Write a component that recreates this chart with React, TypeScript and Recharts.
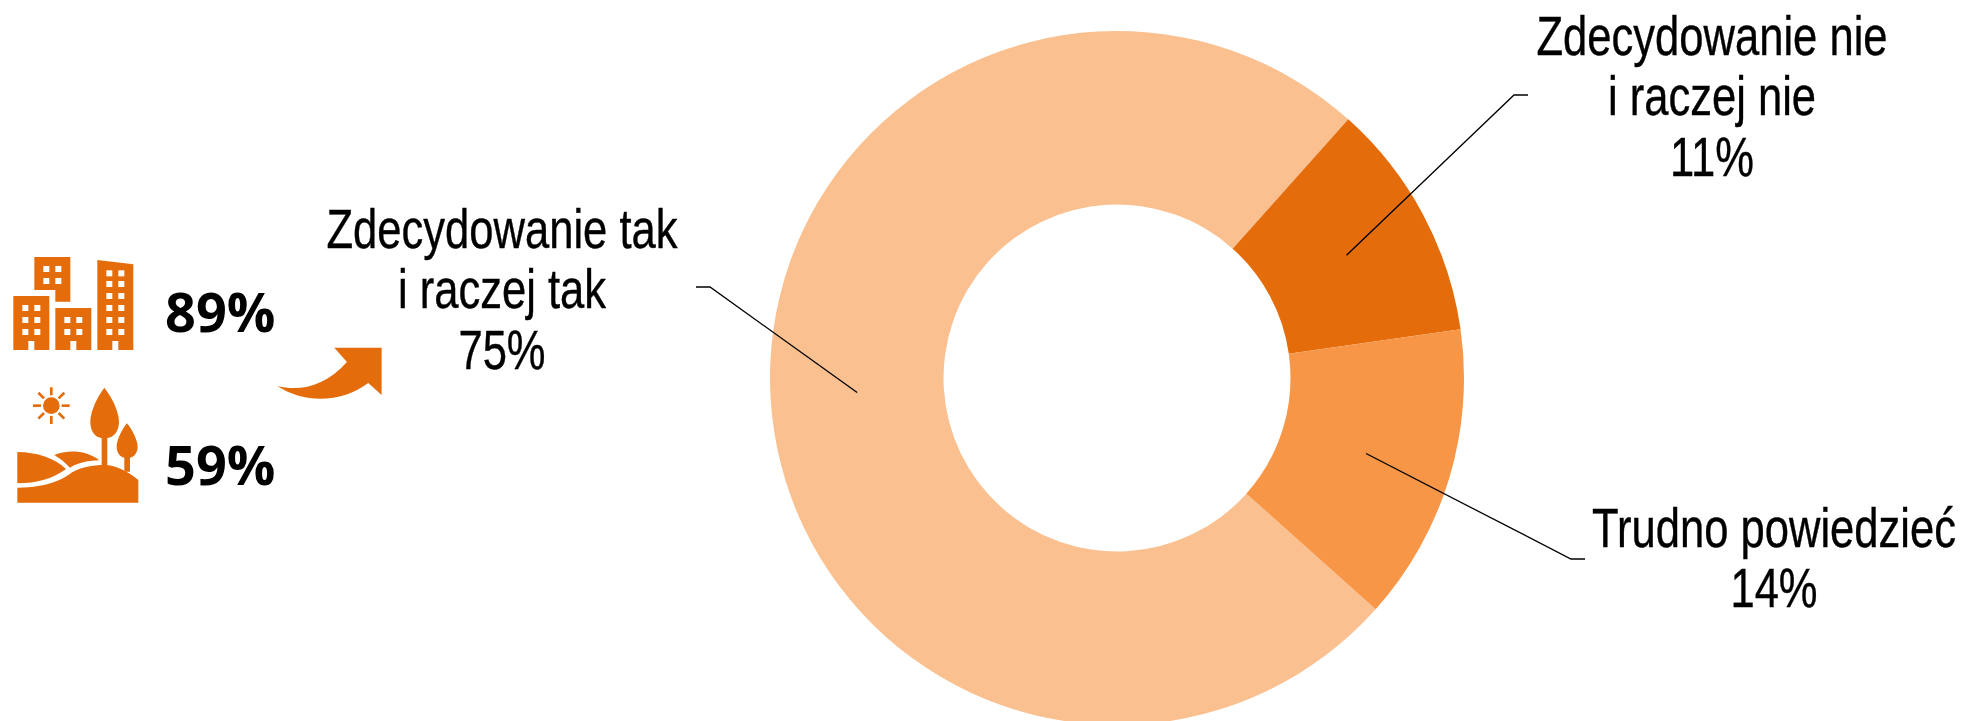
import { PieChart, Pie, Cell } from 'recharts';

const CATEGORIES = ['Zdecydowanie tak\ni raczej tak', 'Zdecydowanie nie\ni raczej nie', 'Trudno powiedzieć'];
const VALUES = [75, 11.15, 13.85];
const COLORS = ['#FAC090', '#E46C0A', '#F79646'];
const ICON_STATS = ['89%', '59%'];

const ORANGE = '#E46C0A';
const LABEL_FONT = '"Liberation Sans", Arial, sans-serif';
const LABEL_SIZE = 55;
const LABEL_SQUEEZE = 0.792; // the reference text is a condensed sans
const LINE_HEIGHT = 60.5;

// elbow of each leader line and where the text block sits, relative to the pie centre
const LEADERS = [
  { elbowX: -407, endX: -421, y: -91, textX: -615, textY: -130 },
  { elbowX: 397, endX: 411, y: -283, textX: 595, textY: -323 },
  { elbowX: 454, endX: 468, y: 181, textX: 657, textY: 169 },
];

const data = CATEGORIES.map((name, i) => ({ name, value: VALUES[i] }));

const RADIAN = Math.PI / 180;

function renderLabel(props: any) {
  const { cx, cy, midAngle, innerRadius, outerRadius, index, name, value } = props;
  const r = (innerRadius + outerRadius) / 2;
  const sx = cx + r * Math.cos(-midAngle * RADIAN);
  const sy = cy + r * Math.sin(-midAngle * RADIAN);
  const l = LEADERS[index];
  const lines = [...String(name).split('\n'), `${Math.round(value)}%`];
  return (
    <g key={index}>
      <polyline
        points={`${sx},${sy} ${cx + l.elbowX},${cy + l.y} ${cx + l.endX},${cy + l.y}`}
        fill="none"
        stroke="#000"
        strokeWidth={1.3}
      />
      <g transform={`translate(${cx + l.textX},${cy + l.textY}) scale(${LABEL_SQUEEZE},1)`}>
        <text textAnchor="middle" fontFamily={LABEL_FONT} fontSize={LABEL_SIZE} fill="#000" stroke="#000" strokeWidth={0.4}>
          {lines.map((t, i) => (
            <tspan key={t} x={0} dy={i === 0 ? 0 : LINE_HEIGHT}>
              {t}
            </tspan>
          ))}
        </text>
      </g>
    </g>
  );
}

function Buildings() {
  const win = (xs: number[], ys: number[]) =>
    ys.flatMap((y) => xs.map((x) => <rect key={`${x}-${y}`} x={x} y={y} width={18} height={18} fill="#fff" />));
  return (
    <g>
      <path d="M103,81 H211 V215 H166 V180 H103 Z" fill={ORANGE} />
      <path d="M40,198 H148 V360 H103 V333 H85 V360 H40 Z" fill={ORANGE} />
      <path d="M166,234 H274 V360 H229 V333 H211 V360 H166 Z" fill={ORANGE} />
      <path d="M292,90 L400,103 V360 H355 V333 H337 V360 H292 Z" fill={ORANGE} />
      {win([130, 166], [108, 144])}
      {win([67, 103], [225, 261, 297])}
      {win([193, 229], [261, 297])}
      {win([319, 355], [121, 153, 189, 225, 261, 297])}
    </g>
  );
}

function Landscape() {
  const rays = [0, 45, 90, 135, 180, 225, 270, 315];
  return (
    <g fill={ORANGE}>
      <circle cx={154} cy={527} r={25} />
      {rays.map((a) => (
        <rect key={a} x={150} y={472} width={8} height={24} transform={`rotate(${a} 154 527)`} />
      ))}
      <path d="M313,473 C335,500 357,545 357,575 C357,605 340,622 322,624 L322,708 L305,708 L305,624 C287,622 271,605 271,575 C271,545 292,500 313,473 Z" />
      <path d="M381,580 C395,597 413,630 413,650 C413,668 403,680 390,683 L390,725 L373,725 L373,683 C360,680 350,668 350,650 C350,630 367,597 381,580 Z" />
      <path d="M52,666 C110,666 165,685 198,717 C160,745 110,760 52,760 Z" />
      <path d="M163,675 C200,660 255,658 298,691 C260,692 230,700 210,713 C195,697 180,685 163,675 Z" />
      <path d="M52,773 C110,773 165,762 205,735 C235,712 270,705 320,705 C350,708 385,725 415,750 L415,818 L52,818 Z" />
    </g>
  );
}

export default function App() {
  return (
    <div style={{ position: 'fixed', left: 0, top: 0, width: 1964, height: 721, overflow: 'hidden', background: '#fff' }}>
      <PieChart width={1964} height={721} margin={{ top: 0, right: 0, bottom: 0, left: 0 }}>
        <Pie
          data={data}
          dataKey="value"
          nameKey="name"
          cx={1117}
          cy={378}
          innerRadius={173.5}
          outerRadius={347}
          startAngle={-41.8}
          endAngle={-401.8}
          stroke="none"
          label={renderLabel}
          labelLine={false}
          isAnimationActive={false}
        >
          {data.map((d, i) => (
            <Cell key={d.name} fill={COLORS[i]} />
          ))}
        </Pie>
        <g transform="translate(0,230) scale(0.3333)">
          <Buildings />
          <Landscape />
          <path
            d="M832,468 C900,485 975,470 1041,396 L1003,353 H1145 V495 L1105,459 C1030,515 920,525 832,468 Z"
            fill={ORANGE}
          />
        </g>
        <text x={165} y={332} fontFamily="'Open Sans', sans-serif" fontWeight={700} fontSize={54} fill="#000">
          {ICON_STATS[0]}
        </text>
        <text x={165} y={485} fontFamily="'Open Sans', sans-serif" fontWeight={700} fontSize={54} fill="#000">
          {ICON_STATS[1]}
        </text>
      </PieChart>
    </div>
  );
}
